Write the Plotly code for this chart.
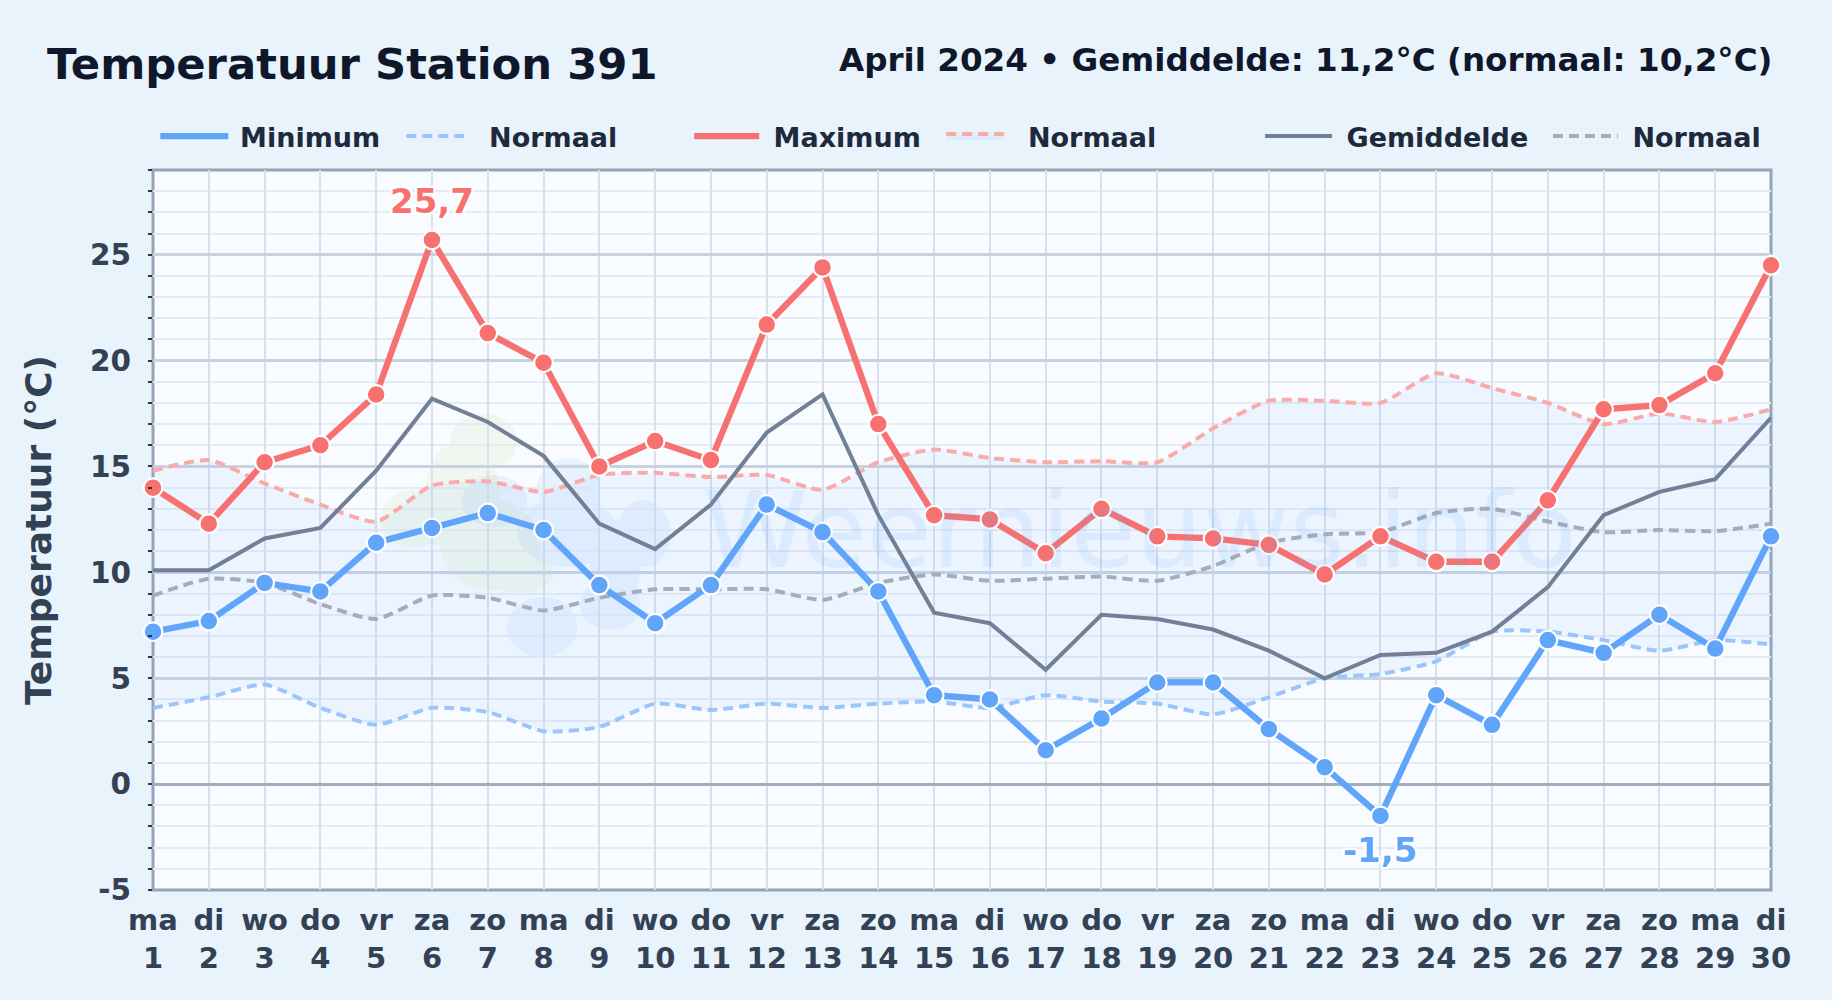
import plotly.graph_objects as go

days = list(range(1, 31))
weekdays = ["ma","di","wo","do","vr","za","zo"]
day_names = [weekdays[i % 7] for i in range(30)]
tick_labels = [f"{n}<br>{d}" for n, d in zip(day_names, days)]

t_min = [7.2,7.7,9.5,9.1,11.4,12.1,12.8,12.0,9.4,7.6,9.4,13.2,11.9,9.1,4.2,4.0,1.6,3.1,4.8,4.8,2.6,0.8,-1.5,4.2,2.8,6.8,6.2,8.0,6.4,11.7]
t_max = [14.0,12.3,15.2,16.0,18.4,25.7,21.3,19.9,15.0,16.2,15.3,21.7,24.4,17.0,12.7,12.5,10.9,13.0,11.7,11.6,11.3,9.9,11.7,10.5,10.5,13.4,17.7,17.9,19.4,24.5]
t_avg = [10.1,10.1,11.6,12.1,14.8,18.2,17.1,15.5,12.3,11.1,13.2,16.6,18.4,12.7,8.1,7.6,5.4,8.0,7.8,7.3,6.3,5.0,6.1,6.2,7.2,9.3,12.7,13.8,14.4,17.3]
n_max = [14.8,15.3,14.2,13.2,12.4,14.1,14.3,13.8,14.6,14.7,14.5,14.6,13.9,15.2,15.8,15.4,15.2,15.25,15.2,16.8,18.1,18.1,18.0,19.4,18.7,18.0,17.0,17.5,17.1,17.7]
n_min = [3.6,4.1,4.7,3.6,2.8,3.6,3.4,2.5,2.7,3.8,3.5,3.8,3.6,3.8,3.9,3.6,4.2,3.9,3.8,3.3,4.1,5.0,5.2,5.8,7.2,7.2,6.8,6.3,6.8,6.6]
n_avg = [8.9,9.7,9.5,8.5,7.8,8.9,8.8,8.2,8.8,9.2,9.2,9.2,8.7,9.5,9.9,9.6,9.7,9.8,9.6,10.3,11.4,11.8,11.9,12.8,13.0,12.4,11.9,12.0,11.95,12.3]

FONT = "DejaVu Sans"
W, H = 1832, 1000
L, R, T, B = 152.7, 1771, 169.5, 890.3
DASH = "10px,6px"
HALO = ",".join(f"{x}px {y}px 1px white" for x in (-2, 0, 2) for y in (-2, 0, 2))
NB = "\u00a0"
QS = "\u2005"

fig = go.Figure()

def bold(text):
    return f"<b>{text}</b>"

def line_trace(y, name, color, width, legend, dash=None, **kw):
    fig.add_trace(go.Scatter(
        x=days, y=y, name=name, legend=legend,
        mode="lines",
        line=dict(color=color, width=width, dash=dash, shape="spline" if dash else "linear", smoothing=0.6),
        cliponaxis=False, hoverinfo="x+y", **kw))

def marker_trace(y, name, color):
    fig.add_trace(go.Scatter(
        x=days, y=y, name=name, mode="markers", showlegend=False,
        marker=dict(size=18.7, color=color, line=dict(color="white", width=2.2)),
        cliponaxis=False, hoverinfo="x+y"))

line_trace(n_min, bold(NB * 2 + "Normaal"), "#9cc6fb", 4, "legend2", dash=DASH)
line_trace(n_max, bold(NB * 2 + "Normaal"), "#fbaaaa", 4, "legend4", dash=DASH,
           fill="tonexty", fillcolor="rgba(96,165,250,0.08)")
line_trace(n_avg, bold(NB + "Normaal"), "#a3aeba", 4, "legend6", dash=DASH)
line_trace(t_avg, bold(NB + "Gemiddelde"), "#718096", 4, "legend5")
line_trace(t_min, bold(QS + "Minimum"), "#60a5fa", 6.3, "legend")
line_trace(t_max, bold(NB + "Maximum"), "#f87171", 6.3, "legend3")
marker_trace(t_min, "Minimum", "#60a5fa")
marker_trace(t_max, "Maximum", "#f87171")

def paper_x(px):
    return (px - L) / (R - L)

def paper_y(py):
    return 1 - (py - T) / (B - T)

def legend_cfg(line_start, line_len):
    return dict(orientation="h", x=paper_x(line_start - 5), xanchor="left", y=paper_y(136), yanchor="middle",
                yref="paper", bgcolor="rgba(0,0,0,0)", itemwidth=line_len, itemclick=False, itemdoubleclick=False,
                font=dict(family=FONT, size=27, color="#1e293b"), tracegroupgap=0, borderwidth=0)

def ellipse_path(x0, y0, x1, y1):
    k = 0.5523
    cx, cy = (x0 + x1) / 2, (y0 + y1) / 2
    rx, ry = (x1 - x0) / 2, (y1 - y0) / 2
    P = lambda x, y: f"{paper_x(x):.5f},{paper_y(y):.5f}"
    return (f"M{P(cx + rx, cy)} C{P(cx + rx, cy + k * ry)} {P(cx + k * rx, cy + ry)} {P(cx, cy + ry)} "
            f"C{P(cx - k * rx, cy + ry)} {P(cx - rx, cy + k * ry)} {P(cx - rx, cy)} "
            f"C{P(cx - rx, cy - k * ry)} {P(cx - k * rx, cy - ry)} {P(cx, cy - ry)} "
            f"C{P(cx + k * rx, cy - ry)} {P(cx + rx, cy - k * ry)} {P(cx + rx, cy)} Z")

# Watermark logo blobs
logo_green = [(450, 413, 517, 470), (380, 490, 447, 547), (487, 553, 553, 593), (425, 440, 500, 550), (440, 500, 540, 590), (400, 495, 480, 545)]
logo_blue = [(462, 475, 527, 527), (537, 458, 600, 517), (507, 597, 577, 657), (580, 580, 640, 630), (617, 500, 670, 567), (517, 497, 617, 567), (590, 520, 640, 610)]
shapes = [
    dict(type="path", xref="paper", yref="paper", path=" ".join(ellipse_path(*e) for e in logo_green),
         fillcolor="rgba(190,225,150,0.14)", line_width=0, layer="below", fillrule="nonzero"),
    dict(type="path", xref="paper", yref="paper", path=" ".join(ellipse_path(*e) for e in logo_blue),
         fillcolor="rgba(96,165,250,0.10)", line_width=0, layer="below", fillrule="nonzero"),
    dict(type="rect", xref="paper", yref="paper", x0=0, x1=1, y0=0, y1=1,
         line=dict(color="#94a3b8", width=3), fillcolor="rgba(0,0,0,0)", layer="below"),
]

imax = t_max.index(max(t_max))
imin = t_min.index(min(t_min))
fmt = lambda v: f"{v:.1f}".replace(".", ",")

annotations = [
    dict(text="Weernieuws.info", xref="paper", yref="paper", x=paper_x(1140), y=paper_y(530), showarrow=False,
         font=dict(family=FONT, size=106, color="rgba(96,165,250,0.12)"), xanchor="center", yanchor="middle"),
    dict(text=bold("Temperatuur Station 391"), xref="paper", yref="paper", x=paper_x(45), xanchor="left", y=paper_y(63.5), yanchor="middle",
         showarrow=False, font=dict(family=FONT, size=43.3, color="#0f172a")),
    dict(text=bold("April 2024 • Gemiddelde: 11,2°C (normaal: 10,2°C)"), xref="paper", yref="paper", x=paper_x(1774), xanchor="right", y=paper_y(59), yanchor="middle",
         showarrow=False, font=dict(family=FONT, size=32.6, color="#0f172a")),
    dict(text=bold(fmt(t_max[imax])), x=days[imax], y=t_max[imax], xref="x", yref="y", yshift=39, showarrow=False,
         font=dict(family=FONT, size=34, color="#f87171", shadow=HALO)),
    dict(text=bold(fmt(t_min[imin])), x=days[imin], y=t_min[imin], xref="x", yref="y", yshift=-34, showarrow=False,
         font=dict(family=FONT, size=34, color="#60a5fa", shadow=HALO)),
]

fig.update_layout(
    width=W, height=H, autosize=False,
    margin=dict(l=L, r=W - R, t=T, b=H - B, pad=0),
    paper_bgcolor="#e8f3fc", plot_bgcolor="#f8fbff",
    font=dict(family=FONT),
    showlegend=True,
    legend=legend_cfg(160, 68),
    legend2=legend_cfg(406, 59),
    legend3=legend_cfg(694, 65),
    legend4=legend_cfg(946, 58),
    legend5=legend_cfg(1265, 67),
    legend6=legend_cfg(1553, 65),
    shapes=shapes, annotations=annotations,
    xaxis=dict(range=[1, 30], tickmode="array", tickvals=days, ticktext=[bold(t) for t in tick_labels],
               tickangle=0, tickfont=dict(family=FONT, size=29, color="#334155"), ticklabelstandoff=10,
               showgrid=True, gridcolor="#d8e0ea", gridwidth=2, showline=False, ticks="", zeroline=False),
    yaxis=dict(range=[-5, 29], tickmode="array", tickvals=[-5, 0, 5, 10, 15, 20, 25], ticktext=[bold(v) for v in (-5, 0, 5, 10, 15, 20, 25)],
               tickfont=dict(family=FONT, size=29.5, color="#334155"), ticklabelstandoff=21,
               showgrid=True, gridcolor="#c8d3e0", gridwidth=2.5, showline=False, ticks="", zeroline=True, zerolinecolor="#a0aec0", zerolinewidth=3,
               minor=dict(dtick=1, tick0=0, showgrid=True, gridcolor="#e6ebf2", gridwidth=2, ticks="outside", ticklen=4, tickcolor="#333", tickwidth=1.5),
               title=dict(text=bold("Temperatuur (°C)"), font=dict(family=FONT, size=36, color="#334155"), standoff=26.5)),
)

fig.write_html("out.html", config=dict(displayModeBar=False),
               post_script="document.body.style.margin='0';document.body.style.background='#e8f3fc';")
